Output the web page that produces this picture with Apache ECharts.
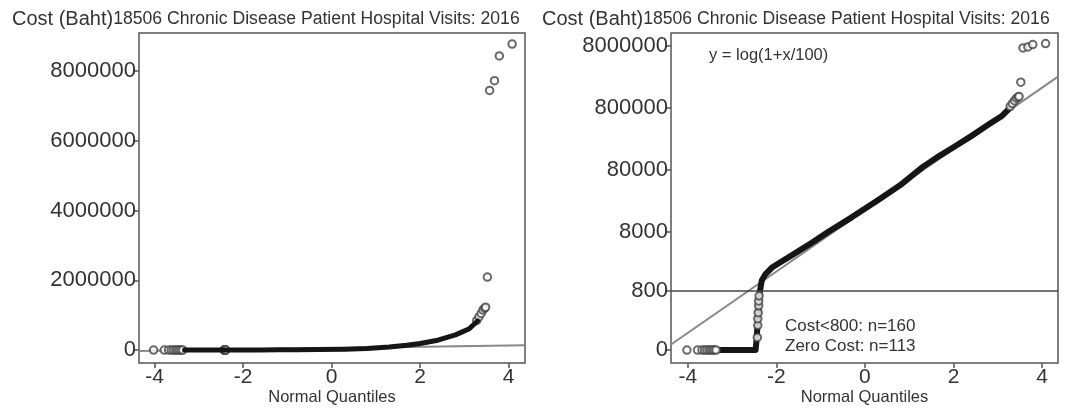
<!DOCTYPE html>
<html><head><meta charset="utf-8">
<script src="https://cdn.jsdelivr.net/npm/echarts@6.0.0/dist/echarts.min.js"></script>
<style>html,body{margin:0;padding:0;background:#fff}#c{width:1065px;height:408px}</style>
</head><body><div id="c"></div>
<script>
// ---------- data ----------
const titleMain = 'Cost (Baht)';
const titleSub = '18506 Chronic Disease Patient Hospital Visits: 2016';
const xName = 'Normal Quantiles';
const xTicks = [-4, -2, 0, 2, 4];
const leftYTicks = [0, 2000000, 4000000, 6000000, 8000000];
const rightYTicks = [0, 800, 8000, 80000, 800000, 8000000];

// dense body of the Q-Q plot (normal quantile, cost in Baht)
const bandQ    = [-3.32, -2.47, -2.45, -2.43, -2.41, -2.39, -2.37, -2.33, -2.25, -2.10, -1.90, -1.60, -1.20, -0.80, -0.30, 0.30, 0.80, 1.30, 1.70, 2.00, 2.40, 2.80, 3.10, 3.30];
const bandCost = [0, 0, 40, 130, 300, 560, 800, 1218, 1560, 2040, 2530, 3450, 5270, 8220, 13700, 26200, 45600, 89000, 138000, 186000, 282000, 436000, 602000, 832000];

// individually visible points
const dotQ    = [-4.02, -3.78, -3.68, -3.62, -3.57, -3.52, -3.48, -3.44, -3.40, -3.36,
                 -2.43, -2.42, -2.42, -2.41, -2.40, -2.40, -2.39,
                 3.28, 3.33, 3.38, 3.42, 3.46, 3.48, 3.52, 3.57, 3.68, 3.79, 4.08];
const dotCost = [0, 0, 0, 0, 0, 0, 0, 0, 0, 0,
                 60, 150, 220, 300, 420, 520, 650,
                 850000, 950000, 1050000, 1150000, 1200000, 1230000, 2090000, 7440000, 7720000, 8430000, 8770000];

// reference (Q-Q) lines
const leftRefQ = [-4.35, 4.37];
const leftRefCost = [-30000, 140000];
const rightRefQ = [-4.38, 4.36];
const rightRefY = [0.09, 4.41];   // already on the log(1+x/100) scale
const cutoffCost = 800;

const annoFormula = 'y = log(1+x/100)';
const annoLow = 'Cost<800: n=160';
const annoZero = 'Zero Cost: n=113';

// ---------- chart ----------
const FF = 'Liberation Sans, Arial, sans-serif';
const TXT = '#333';
const tf = c => Math.log10(1 + c / 100);
const zip = (a, b, f) => a.map((v, i) => [v, f ? f(b[i]) : b[i]]);

const chart = echarts.init(document.getElementById('c'), null, {renderer: 'canvas'});

function xAxis(gi, min, max) {
  return {
    type: 'value', gridIndex: gi, min: min, max: max,
    name: xName, nameLocation: 'middle', nameGap: 26, nameMoveOverlap: false,
    nameTextStyle: {fontFamily: FF, fontSize: 16.5, color: TXT},
    axisLine: {show: false, onZero: false},
    axisTick: {show: true, length: 5, customValues: xTicks, lineStyle: {color: '#555', width: 1.5}},
    axisLabel: {customValues: xTicks, fontFamily: FF, fontSize: 21, color: TXT, margin: 4,
      formatter: v => String(v)},
    splitLine: {show: false}
  };
}

const rightTickPos = rightYTicks.map(tf);
const titleStyle = {rich: {
  a: {fontFamily: FF, fontSize: 20, fontWeight: 'normal', color: TXT, lineHeight: 22},
  b: {fontFamily: FF, fontSize: 17.6, fontWeight: 'normal', color: TXT, lineHeight: 22}}};
const dotStyle = {color: '#444', borderWidth: 1};

const option = {
  animation: false,
  backgroundColor: '#fff',
  title: [
    {text: '{a|' + titleMain + '}{b|' + titleSub + '}', left: 12, top: 8, padding: 0, textStyle: titleStyle},
    {text: '{a|' + titleMain + '}{b|' + titleSub + '}', left: 542, top: 8, padding: 0, textStyle: titleStyle}
  ],
  grid: [
    {left: 139, top: 33, width: 386, height: 330, show: true, borderColor: '#555', borderWidth: 1.5,
     backgroundColor: 'transparent', outerBoundsMode: 'none', containLabel: false},
    {left: 671, top: 33, width: 387, height: 330, show: true, borderColor: '#555', borderWidth: 1.5,
     backgroundColor: 'transparent', outerBoundsMode: 'none', containLabel: false}
  ],
  xAxis: [xAxis(0, -4.35, 4.37), xAxis(1, -4.38, 4.36)],
  yAxis: [
    {type: 'value', gridIndex: 0, min: -371000, max: 9086000,
     axisLine: {show: false, onZero: false},
     axisTick: {show: true, length: 5, customValues: leftYTicks, lineStyle: {color: '#555', width: 1.5}},
     axisLabel: {customValues: leftYTicks, fontFamily: FF, fontSize: 22, color: TXT, margin: 3, formatter: v => String(v)},
     splitLine: {show: false}},
    {type: 'value', gridIndex: 1, min: -0.209, max: 5.113,
     axisLine: {show: false, onZero: false},
     axisTick: {show: true, length: 5, customValues: rightTickPos, lineStyle: {color: '#555', width: 1.5}},
     axisLabel: {customValues: rightTickPos, fontFamily: FF, fontSize: 22, color: TXT, margin: 3,
       formatter: v => {
         let best = 0, d = 1e9;
         rightTickPos.forEach((p, i) => { if (Math.abs(p - v) < d) { d = Math.abs(p - v); best = i; } });
         return String(rightYTicks[best]);
       }},
     splitLine: {show: false}}
  ],
  series: [
    // left panel
    {type: 'line', xAxisIndex: 0, yAxisIndex: 0, data: zip(leftRefQ, leftRefCost), symbol: 'none',
     lineStyle: {color: '#888', width: 2}, z: 2},
    {type: 'scatter', xAxisIndex: 0, yAxisIndex: 0, data: zip(dotQ, dotCost), symbol: 'emptyCircle', symbolSize: 7.5,
     itemStyle: dotStyle, z: 3},
    {type: 'line', xAxisIndex: 0, yAxisIndex: 0, data: zip(bandQ, bandCost), symbol: 'none',
     lineStyle: {color: '#151515', width: 5, join: 'round', cap: 'round'}, z: 4},
    // right panel
    {type: 'line', xAxisIndex: 1, yAxisIndex: 1, data: zip(rightRefQ, rightRefY), symbol: 'none',
     lineStyle: {color: '#888', width: 2}, z: 2,
     markLine: {silent: true, symbol: 'none', label: {show: false},
       lineStyle: {color: '#444', width: 1.5, type: 'solid'}, data: [{yAxis: tf(cutoffCost)}]}},
    {type: 'line', xAxisIndex: 1, yAxisIndex: 1, data: zip(bandQ, bandCost, tf), symbol: 'none',
     lineStyle: {color: '#151515', width: 6, join: 'round', cap: 'round'}, z: 3},
    {type: 'scatter', xAxisIndex: 1, yAxisIndex: 1, data: zip(dotQ, dotCost, tf), symbol: 'emptyCircle', symbolSize: 7.5,
     itemStyle: dotStyle, z: 4}
  ],
  graphic: [
    {type: 'text', left: 709, top: 47, style: {text: annoFormula, font: '16.5px ' + FF, fill: TXT}},
    {type: 'text', left: 785, top: 318, style: {text: annoLow, font: '17px ' + FF, fill: TXT}},
    {type: 'text', left: 785, top: 338, style: {text: annoZero, font: '17px ' + FF, fill: TXT}}
  ]
};
chart.setOption(option);
</script>
</body></html>
